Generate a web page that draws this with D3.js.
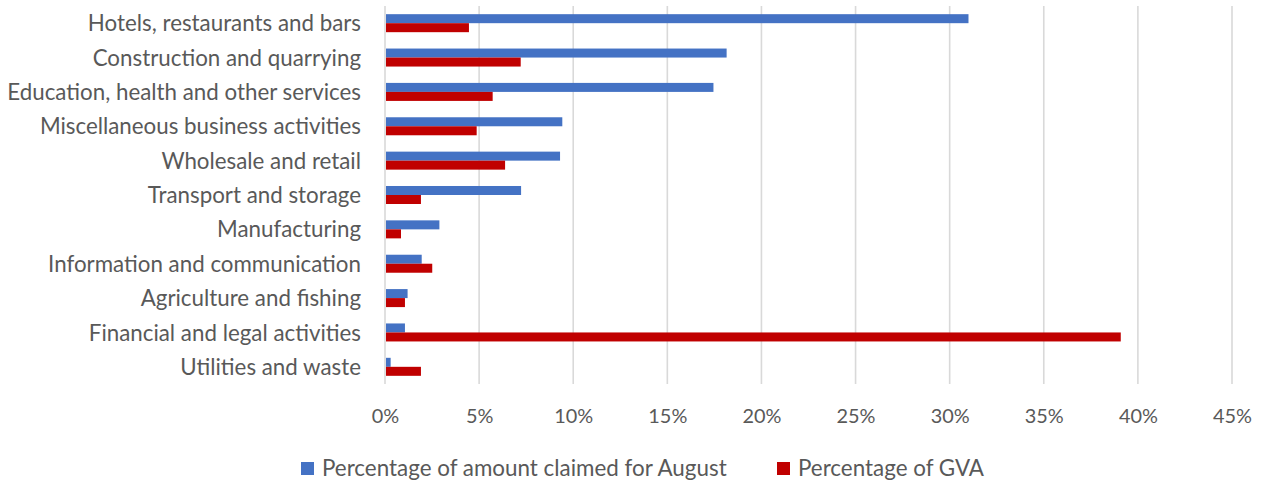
<!DOCTYPE html>
<html>
<head>
<meta charset="utf-8">
<script src="https://cdn.jsdelivr.net/npm/d3@7"></script>
<style>
  html, body { margin: 0; padding: 0; background: #fff; }
  svg { display: block; }
  text { font-family: Lato, "Open Sans", sans-serif; fill: #595959; }
</style>
</head>
<body>
<svg id="chart" width="1267" height="484"></svg>
<script>
const categories = [
  "Hotels, restaurants and bars",
  "Construction and quarrying",
  "Education, health and other services",
  "Miscellaneous business activities",
  "Wholesale and retail",
  "Transport and storage",
  "Manufacturing",
  "Information and communication",
  "Agriculture and fishing",
  "Financial and legal activities",
  "Utilities and waste"
];
const claimedAugust = [31.0, 18.15, 17.45, 9.42, 9.3, 7.23, 2.89, 1.95, 1.2, 1.06, 0.3];
const gvaShare     = [4.46, 7.21, 5.72, 4.87, 6.38, 1.91, 0.85, 2.51, 1.06, 39.09, 1.91];
const seriesNames = ["Percentage of amount claimed for August", "Percentage of GVA"];
const seriesColors = ["#4472C4", "#C00000"];
const tickValues = [0, 5, 10, 15, 20, 25, 30, 35, 40, 45];

const svg = d3.select("#chart");

const x = d3.scaleLinear().domain([0, 45]).range([385, 1232]);
const y = d3.scaleBand().domain(categories).range([6, 384]).paddingInner(0.476).paddingOuter(0.238);
const ySub = d3.scaleBand().domain([0, 1]).range([0, y.bandwidth()]);

// fit a font size so that a sample string has the target width
function fitSize(sample, targetWidth) {
  const t = svg.append("text").attr("font-size", 20).text(sample);
  const w = t.node().getComputedTextLength();
  t.remove();
  return 20 * targetWidth / w;
}
const catSize = fitSize("Education, health and other services", 354);
const tickSize = fitSize("10%", 39);
const legSize = fitSize("Percentage of amount claimed for August", 405);

// gridlines
svg.append("g")
  .selectAll("line")
  .data(tickValues)
  .join("line")
  .attr("x1", d => x(d)).attr("x2", d => x(d))
  .attr("y1", 6).attr("y2", 384)
  .attr("stroke", "#d9d9d9")
  .attr("stroke-width", 1.6);

// bars
const rows = categories.map((c, i) => ({ c, vals: [claimedAugust[i], gvaShare[i]] }));
const g = svg.append("g");
const rowG = g.selectAll("g.row").data(rows).join("g").attr("class", "row")
  .attr("transform", d => `translate(0,${y(d.c)})`);
rowG.selectAll("rect")
  .data(d => d.vals.map((v, k) => ({ v, k })))
  .join("rect")
  .attr("x", x(0) + 1)
  .attr("y", d => ySub(d.k))
  .attr("width", d => Math.max(0, x(d.v) - x(0) - 1))
  .attr("height", ySub.bandwidth())
  .attr("fill", d => seriesColors[d.k]);

// category axis labels
const yAxis = d3.axisLeft(y).tickSize(0).tickPadding(0);
const yAxisG = svg.append("g").attr("transform", "translate(361,0)").call(yAxis);
yAxisG.select(".domain").remove();
yAxisG.selectAll("text")
  .attr("font-size", catSize)
  .attr("font-family", "Lato, sans-serif")
  .attr("fill", "#595959")
  .attr("dy", "0.36em");

// x axis tick labels
const xAxis = d3.axisBottom(x).tickValues(tickValues).tickFormat(d => d + "%").tickSize(0).tickPadding(0);
const xAxisG = svg.append("g").attr("transform", "translate(0,400)").call(xAxis);
xAxisG.select(".domain").remove();
xAxisG.selectAll("text")
  .attr("font-size", tickSize)
  .attr("font-family", "Lato, sans-serif")
  .attr("fill", "#595959")
  .attr("y", 23)
  .attr("dy", 0);

// legend
const legendX = [301, 777];
const leg = svg.append("g").selectAll("g").data(seriesNames).join("g")
  .attr("transform", (d, i) => `translate(${legendX[i]},0)`);
leg.append("rect").attr("x", 0).attr("y", 462).attr("width", 13).attr("height", 13)
  .attr("fill", (d, i) => seriesColors[i]);
leg.append("text").attr("x", 21).attr("y", 475.5)
  .attr("font-size", legSize)
  .text(d => d);
</script>
</body>
</html>
